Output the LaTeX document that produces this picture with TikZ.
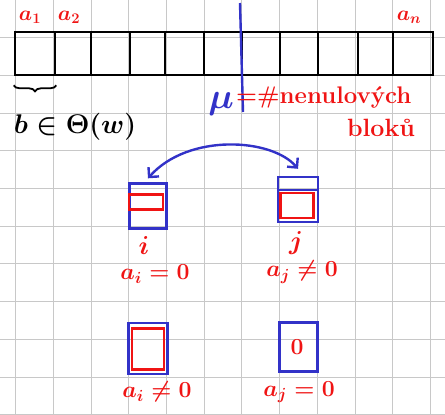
\documentclass[tikz,border=0pt]{standalone}
\usepackage{fix-cm}
\usepackage{fontspec}
\usetikzlibrary{arrows.meta,decorations.pathreplacing}
\definecolor{inkred}{RGB}{240,20,20}
\definecolor{inkblue}{RGB}{50,50,200}
\definecolor{gridgray}{RGB}{200,200,200}
\tikzset{
  cell/.style={draw=black, line width=2.6pt, minimum height=43pt, inner sep=0pt},
  blockbox/.style={draw=inkblue, line width=2.4pt, inner sep=0pt},
  valbox/.style={draw=inkred, line width=2.4pt, inner sep=0pt},
  redlabel/.style={text=inkred, inner sep=0pt, font=\fontsize{23}{25}\selectfont\bfseries\boldmath},
}

\begin{document}
\begin{tikzpicture}[x=1pt,y=1pt]
\useasboundingbox (0,0) rectangle (445,-415);
\fill[white] (0,0) rectangle (445,-415);
% squared paper
\foreach \gx in {0,...,11}
  \draw[gridgray, line width=0.9pt] ({15.7+37.7*\gx},0) -- ({15.7+37.7*\gx},-415);
\foreach \gy in {1,...,11}
  \draw[gridgray, line width=0.9pt] (0,{-37.7*\gy}) -- (445,{-37.7*\gy});

% the array of blocks
\foreach \l/\r [count=\k] in {15/55,55/91,91/130,130/165,165/204,204/242,242/280,280/318,318/358,358/393,393/433}
  \node[cell, minimum width={(\r-\l)*1pt}] (c\k) at ({(\l+\r)/2},-53.5) {};

\node[redlabel, font=\fontsize{21}{23}\selectfont\bfseries\boldmath] (a1) at (30,-17) {$a_1$};
\node[redlabel, font=\fontsize{21}{23}\selectfont\bfseries\boldmath] (a2) at (69,-17) {$a_2$};
\node[redlabel, font=\fontsize{21}{23}\selectfont\bfseries\boldmath] (an) at (409,-17) {$a_n$};

\draw[line width=1.8pt, decorate, decoration={brace, mirror, amplitude=6pt}]
  ([yshift=-9pt]c1.south west) -- ([yshift=-9pt]c1.south east);
\node[font=\fontsize{27}{29}\selectfont\boldmath, inner sep=0pt] (bsize) at (75,-127) {$b\in\Theta(w)$};

% count of nonzero blocks
\draw[inkblue, line width=2.4pt] (240,-3) -- (243,-112);
\node[text=inkblue, font=\fontsize{36}{36}\selectfont\boldmath, inner sep=0pt] (mu) at (221,-104) {$\mu$};
\node[redlabel, anchor=west, font=\fontsize{24}{26}\selectfont\bfseries\boldmath] (count) at (236,-97) {$=$\#nenulových};
\node[redlabel, font=\fontsize{25}{27}\selectfont\bfseries\boldmath] (blocks) at (381,-128) {bloků};

% swap i <-> j
\node[blockbox, minimum width=37pt, minimum height=45pt] (bi) at (148,-206) {};
\node[valbox, minimum width=34pt, minimum height=15pt] (vi) at (146,-202) {};
\node[blockbox, minimum width=40pt, minimum height=45pt] (bj) at (298,-199.5) {};
\node[valbox, minimum width=33pt, minimum height=25pt] (vj) at (297,-205.5) {};
\draw[inkblue, line width=2.4pt] (bj.west |- 0,-190) -- (bj.east |- 0,-190);

\node[redlabel, font=\fontsize{26}{28}\selectfont\bfseries\boldmath] (li) at (144,-245) {$i$};
\node[redlabel, font=\fontsize{26}{28}\selectfont\bfseries\boldmath] (lj) at (296,-243) {$j$};
\node[redlabel] (ci) at (155,-274) {$a_i=0$};
\node[redlabel] (cj) at (302,-272) {$a_j\neq0$};

\draw[inkblue, line width=2.4pt, {Straight Barb[length=7pt]}-{Straight Barb[length=7pt]}]
  ([yshift=4pt]bi.north) .. controls (188,-133) and (272,-138) .. ([yshift=7pt]bj.north);

% after the swap
\node[blockbox, minimum width=39pt, minimum height=51pt] (bk) at (148,-348.5) {};
\node[valbox, minimum width=32pt, minimum height=41pt] (vk) at (148,-349) {};
\node[blockbox, minimum width=38pt, minimum height=49pt] (bl) at (298.5,-347) {};
\node[redlabel] (zero) at (297,-347) {$0$};

\node[redlabel] (ck) at (157,-392) {$a_i\neq0$};
\node[redlabel] (cl) at (299,-392) {$a_j=0$};
\end{tikzpicture}
\end{document}
